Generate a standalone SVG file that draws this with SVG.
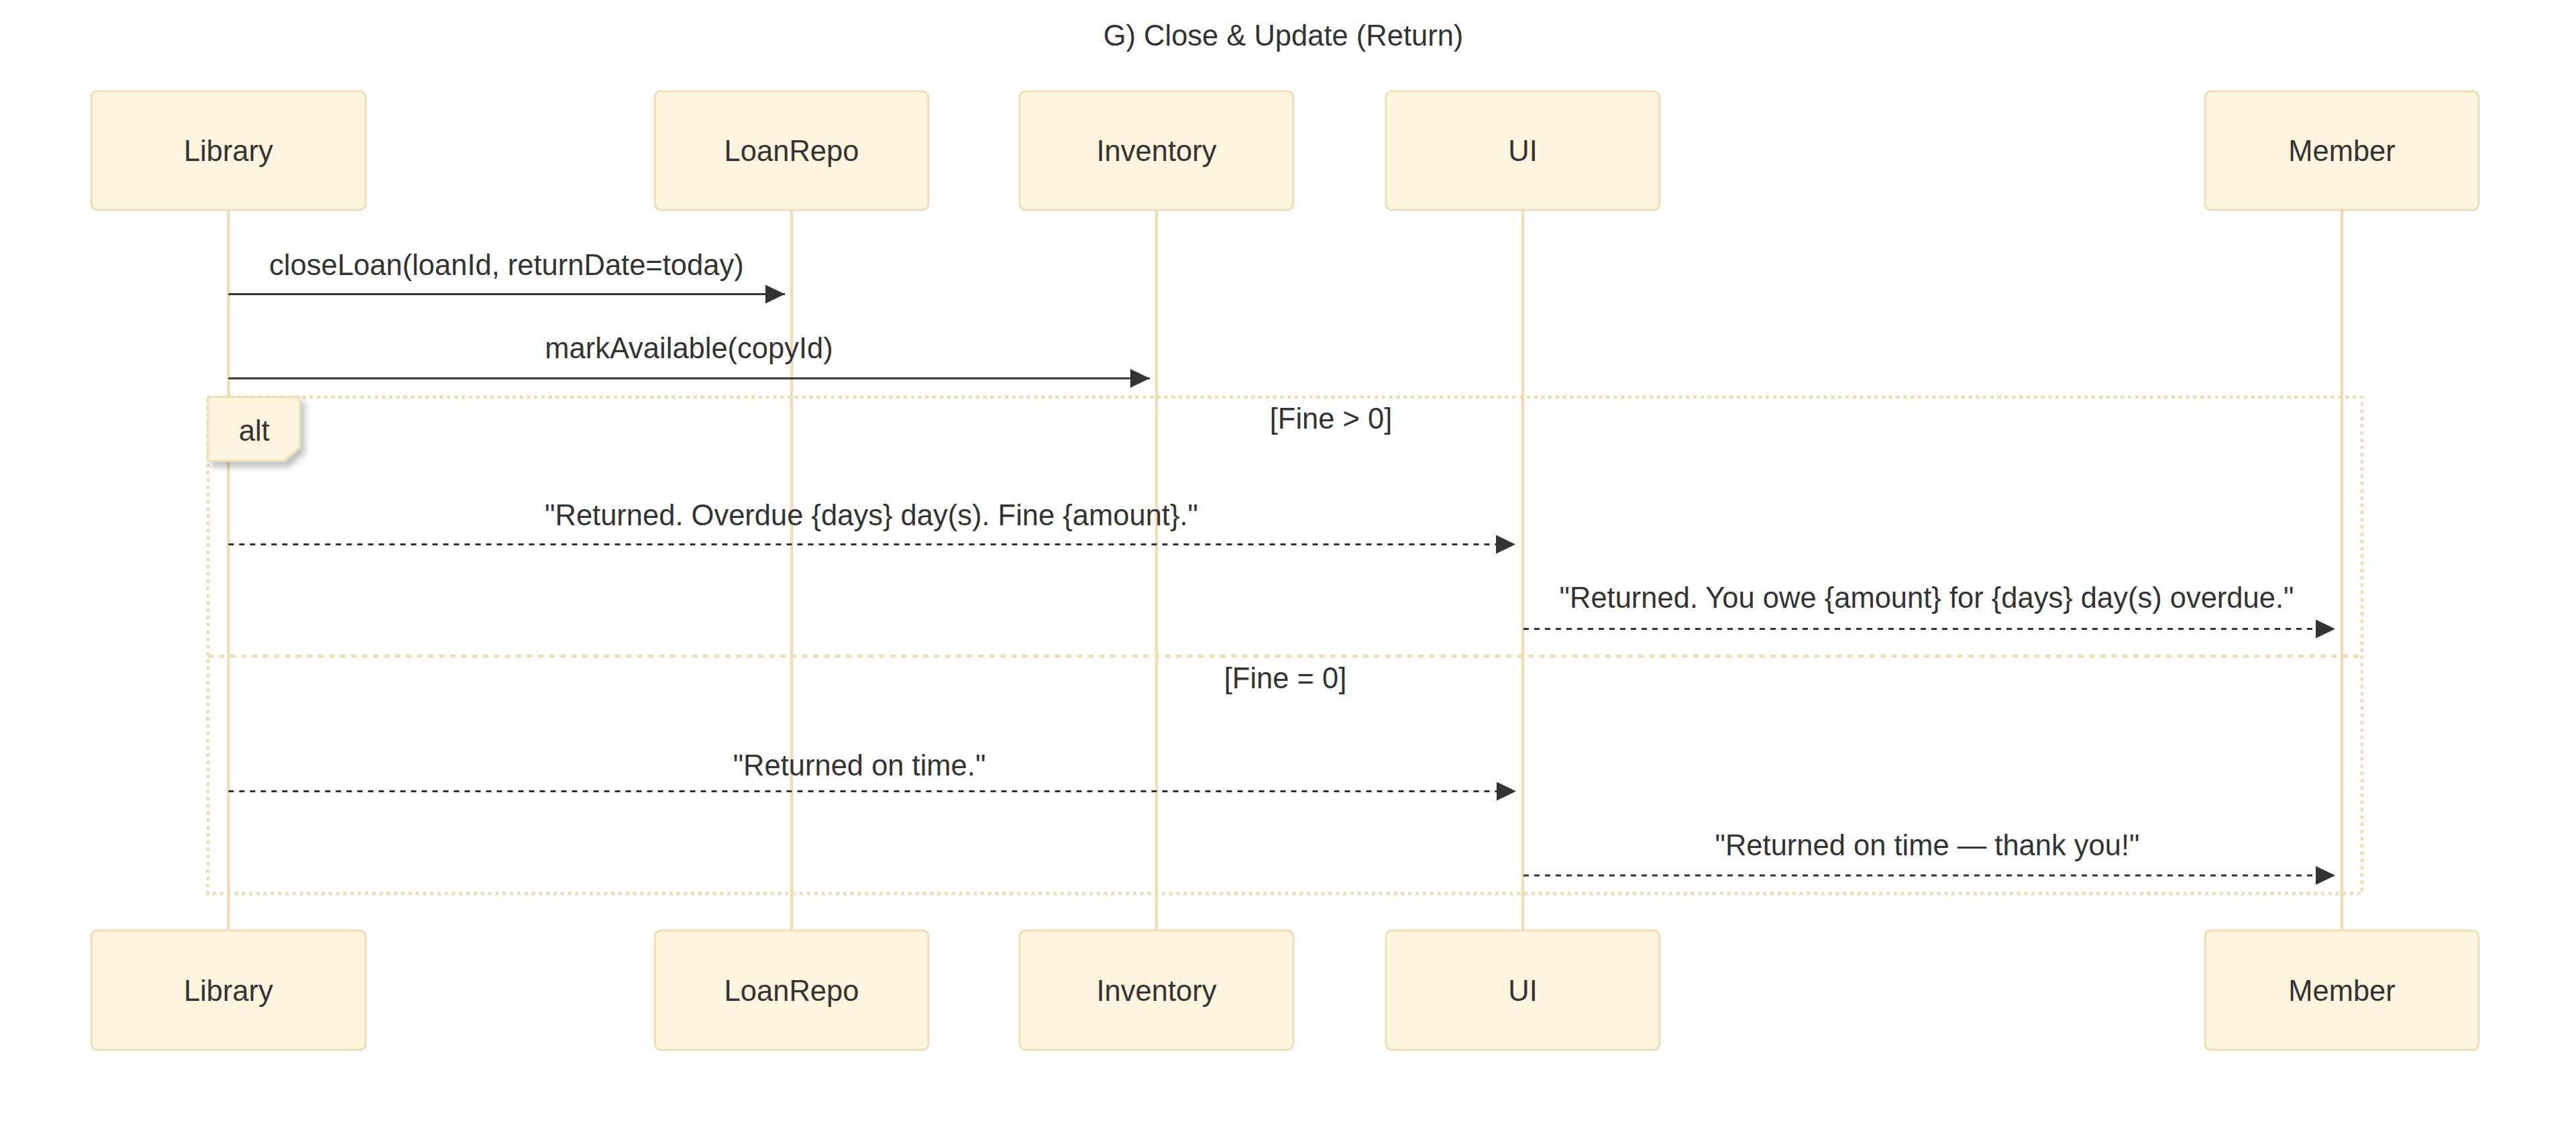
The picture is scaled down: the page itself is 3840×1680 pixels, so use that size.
<svg xmlns="http://www.w3.org/2000/svg" width="3840" height="1680" viewBox="0 0 3840 1680">
<style>
text{font-family:"Liberation Sans",Arial,sans-serif;font-size:43.5px;fill:#333333;text-anchor:middle}
.actor{fill:#FFF4DD;stroke:#F0DDB5;stroke-width:3}
.life{stroke:#F0DDB5;stroke-width:4.5;fill:none}
.msg{stroke:#333333;stroke-width:3;fill:none}
.dash{stroke-dasharray:8 8}
.loop{stroke:#F0DDB5;stroke-width:5;stroke-dasharray:5.4 5.4;fill:none}
.sep{stroke:#F0DDB5;stroke-width:5;stroke-dasharray:8.2 8.2;fill:none}
.lbl{fill:#FFF4DD;stroke:#F0DDB5;stroke-width:3}
</style>
<defs>
<marker id="arrow" viewBox="0 0 29 28" refX="29" refY="14" markerWidth="29" markerHeight="28" markerUnits="userSpaceOnUse" orient="auto">
<path d="M0,0 L29,14 L0,28 z" fill="#333333"/>
</marker>
<filter id="shadow" x="-20%" y="-20%" width="150%" height="150%">
<feDropShadow dx="6" dy="8" stdDeviation="5" flood-color="#000000" flood-opacity="0.25"/>
</filter>
</defs>
<rect width="3840" height="1680" fill="#ffffff"/>
<text id="title" x="1913" y="68">G) Close &amp; Update (Return)</text>
<g id="lifelines">
<line class="life" x1="340.5" y1="313" x2="340.5" y2="1387"/>
<line class="life" x1="1180" y1="313" x2="1180" y2="1387"/>
<line class="life" x1="1724" y1="313" x2="1724" y2="1387"/>
<line class="life" x1="2270" y1="313" x2="2270" y2="1387"/>
<line class="life" x1="3491" y1="313" x2="3491" y2="1387"/>
</g>
<g id="node-library"><rect class="actor" x="136" y="136" width="409" height="177" rx="9"/><text x="340.5" y="240">Library</text></g>
<g id="node-loanrepo"><rect class="actor" x="976" y="136" width="408" height="177" rx="9"/><text x="1180" y="240">LoanRepo</text></g>
<g id="node-inventory"><rect class="actor" x="1520" y="136" width="408" height="177" rx="9"/><text x="1724" y="240">Inventory</text></g>
<g id="node-ui"><rect class="actor" x="2066" y="136" width="408" height="177" rx="9"/><text x="2270" y="240">UI</text></g>
<g id="node-member"><rect class="actor" x="3287" y="136" width="408" height="177" rx="9"/><text x="3491" y="240">Member</text></g>
<g id="node-library-bottom"><rect class="actor" x="136" y="1387" width="409" height="178" rx="9"/><text x="340.5" y="1492">Library</text></g>
<g id="node-loanrepo-bottom"><rect class="actor" x="976" y="1387" width="408" height="178" rx="9"/><text x="1180" y="1492">LoanRepo</text></g>
<g id="node-inventory-bottom"><rect class="actor" x="1520" y="1387" width="408" height="178" rx="9"/><text x="1724" y="1492">Inventory</text></g>
<g id="node-ui-bottom"><rect class="actor" x="2066" y="1387" width="408" height="178" rx="9"/><text x="2270" y="1492">UI</text></g>
<g id="node-member-bottom"><rect class="actor" x="3287" y="1387" width="408" height="178" rx="9"/><text x="3491" y="1492">Member</text></g>
<g id="alt-frame">
<rect class="loop" x="310" y="592" width="3211" height="740"/>
<line class="sep" x1="310" y1="978" x2="3521" y2="978"/>
<polygon class="lbl" filter="url(#shadow)" points="310,592 447,592 447,667 424,687 310,687"/>
<text x="379" y="657">alt</text>
<text x="1984" y="639">[Fine &gt; 0]</text>
<text x="1916" y="1026">[Fine = 0]</text>
</g>
<g id="connectors">
<line class="msg" x1="340.5" y1="438.5" x2="1170" y2="438.5" marker-end="url(#arrow)"/>
<text x="755" y="410">closeLoan(loanId, returnDate=today)</text>
<line class="msg" x1="340.5" y1="564" x2="1714" y2="564" marker-end="url(#arrow)"/>
<text x="1027" y="534">markAvailable(copyId)</text>
<line class="msg dash" x1="340.5" y1="811.5" x2="2259" y2="811.5" marker-end="url(#arrow)"/>
<text x="1299" y="783">"Returned. Overdue {days} day(s). Fine {amount}."</text>
<line class="msg dash" x1="2271" y1="937.5" x2="3481" y2="937.5" marker-end="url(#arrow)"/>
<text x="2872" y="906">"Returned. You owe {amount} for {days} day(s) overdue."</text>
<line class="msg dash" x1="340.5" y1="1179.5" x2="2260" y2="1179.5" marker-end="url(#arrow)"/>
<text x="1281" y="1156">"Returned on time."</text>
<line class="msg dash" x1="2271" y1="1305" x2="3481" y2="1305" marker-end="url(#arrow)"/>
<text x="2873" y="1275">"Returned on time — thank you!"</text>
</g>
</svg>
